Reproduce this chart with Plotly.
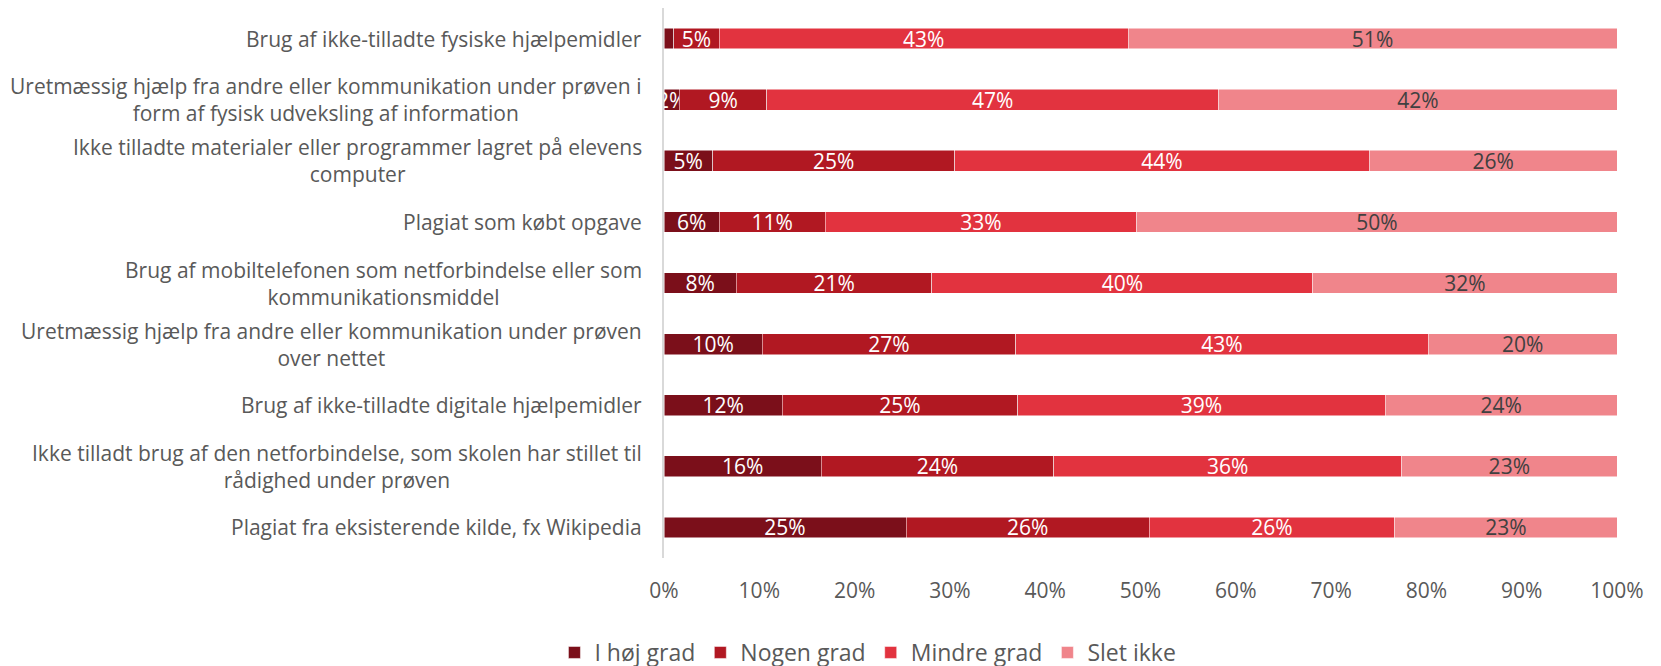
import plotly.graph_objects as go

categories = [
    "Brug af ikke-tilladte fysiske hjælpemidler",
    "Uretmæssig hjælp fra andre eller kommunikation under prøven i<br>form af fysisk udveksling af information",
    "Ikke tilladte materialer eller programmer lagret på elevens<br>computer",
    "Plagiat som købt opgave",
    "Brug af mobiltelefonen som netforbindelse eller som<br>kommunikationsmiddel",
    "Uretmæssig hjælp fra andre eller kommunikation under prøven<br>over nettet",
    "Brug af ikke-tilladte digitale hjælpemidler",
    "Ikke tilladt brug af den netforbindelse, som skolen har stillet til<br>rådighed under prøven",
    "Plagiat fra eksisterende kilde, fx Wikipedia",
]

series_names = ["I høj grad", "Nogen grad", "Mindre grad", "Slet ikke"]

i_hoej_grad = [1.0, 1.6, 5.1, 5.8, 7.6, 10.3, 12.4, 16.5, 25.4]
nogen_grad = [4.8, 9.2, 25.4, 11.1, 20.5, 26.6, 24.7, 24.4, 25.5]
mindre_grad = [42.9, 47.4, 43.5, 32.7, 40.0, 43.3, 38.6, 36.5, 25.8]
slet_ikke = [51.3, 41.8, 26.0, 50.4, 31.9, 19.8, 24.3, 22.6, 23.3]

labels_i_hoej_grad = ["", "2%", "5%", "6%", "8%", "10%", "12%", "16%", "25%"]
labels_nogen_grad = ["5%", "9%", "25%", "11%", "21%", "27%", "25%", "24%", "26%"]
labels_mindre_grad = ["43%", "47%", "44%", "33%", "40%", "43%", "39%", "36%", "26%"]
labels_slet_ikke = ["51%", "42%", "26%", "50%", "32%", "20%", "24%", "23%", "23%"]

tick_vals = [0, 10, 20, 30, 40, 50, 60, 70, 80, 90, 100]
tick_text = ["0%", "10%", "20%", "30%", "40%", "50%", "60%", "70%", "80%", "90%", "100%"]

colors = ["#7B0F1A", "#B11822", "#E2333F", "#F0858B"]
text_colors = ["white", "white", "white", "#404040"]

values = [i_hoej_grad, nogen_grad, mindre_grad, slet_ikke]
labels = [labels_i_hoej_grad, labels_nogen_grad, labels_mindre_grad, labels_slet_ikke]

FONT = "Open Sans"
GRAY = "#595959"
FS = 21

fig = go.Figure()
for name, vals, lab, col, tcol in zip(series_names, values, labels, colors, text_colors):
    fig.add_trace(go.Bar(
        y=categories, x=vals, name=name, orientation="h",
        marker=dict(color=col, line=dict(color="white", width=0.5)),
        text=lab, textposition="inside", insidetextanchor="middle",
        constraintext="none", textangle=0,
        textfont=dict(color=tcol, size=FS, family=FONT),
        hoverinfo="skip",
    ))

for cat in categories:
    fig.add_annotation(
        x=0, xref="paper", y=cat, yref="y", text=cat,
        xanchor="right", yanchor="middle", align="center",
        xshift=-20, showarrow=False,
        font=dict(family=FONT, size=FS, color=GRAY),
    )

fig.update_layout(
    barmode="stack",
    bargap=0.66,
    width=1661, height=666,
    margin=dict(l=656, r=52, t=0, b=116),
    paper_bgcolor="white", plot_bgcolor="white",
    font=dict(family=FONT, size=FS, color=GRAY),
    legend=dict(orientation="h", x=0.214, xanchor="center", y=-0.172, yanchor="middle",
                font=dict(size=23, color=GRAY), traceorder="normal"),
    xaxis=dict(range=[0, 100], tickvals=tick_vals, ticktext=tick_text,
               showgrid=False, zeroline=False, showline=False,
               ticklabelstandoff=18,
               tickfont=dict(size=FS, color=GRAY), fixedrange=True),
    yaxis=dict(autorange="reversed", showgrid=False, showline=True,
               linecolor="#D9D9D9", linewidth=1.5, ticks="",
               showticklabels=False, automargin=False),
)

fig.write_html("out.html")
